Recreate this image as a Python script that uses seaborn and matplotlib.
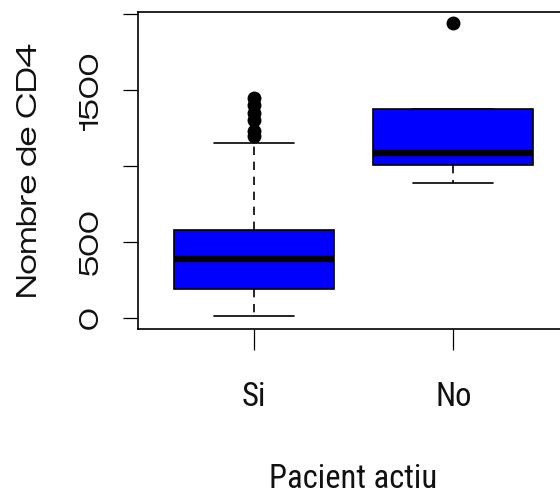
import matplotlib
matplotlib.use("Agg")
import matplotlib.pyplot as plt
from matplotlib import font_manager
import pandas as pd
import seaborn as sns

# CD4 counts per group
groups = ["Si", "No"]
cd4_si = [15, 40, 70, 95, 120, 140, 160, 178, 191,
          215, 240, 265, 290, 315, 340, 365, 389,
          410, 435, 460, 490, 515, 540, 560, 581,
          820, 1150, 1195, 1232, 1305, 1350, 1400, 1446]
cd4_no = [891, 1008, 1083, 1375, 1938]

y_ticks = [0, 500, 1000, 1500, 2000]
y_tick_labels = ["0", "500", "", "1500", ""]

x_title = "Pacient actiu"
y_title = "Nombre de CD4"

df = pd.DataFrame({
    x_title: ["Si"] * len(cd4_si) + ["No"] * len(cd4_no),
    y_title: cd4_si + cd4_no,
})

sns.set_style("ticks")
installed = {f.name for f in font_manager.fontManager.ttflist}


def pick(*names):
    for n in names:
        if n in installed:
            return n
    return "DejaVu Sans"


narrow = pick("Roboto Condensed", "Archivo Narrow", "Liberation Sans")
wide = pick("Zalando Sans Expanded", "DejaVu Sans")

W, H = 560, 495
fig = plt.figure(figsize=(W / 100, H / 100), dpi=100)
fig.patch.set_facecolor("white")
ax = fig.add_axes([138 / W, 1 - 329 / H, 431 / W, 317 / H])
ax.set_facecolor("white")

sns.boxplot(
    data=df, x=x_title, y=y_title, order=groups, ax=ax,
    color="#0000ff", saturation=1, width=0.8, whis=1.5,
    linecolor="black", linewidth=1.2,
    boxprops=dict(edgecolor="black", linewidth=1.2),
    medianprops=dict(color="black", linewidth=4.5, solid_capstyle="butt"),
    whiskerprops=dict(color="black", linewidth=1.2, linestyle=(0, (5, 4))),
    capprops=dict(color="black", linewidth=1.2),
    flierprops=dict(marker="o", markerfacecolor="black",
                    markeredgecolor="black", markersize=9),
)

ax.set_xlim(-0.58, 1.58)
ax.set_ylim(-72, 2013)

ax.set_yticks(y_ticks)
ax.set_yticklabels(y_tick_labels, rotation=90, va="center", ha="center",
                   fontsize=19, family=wide, color="#111111")
ax.tick_params(axis="y", length=10.8, width=0.9, pad=23, color="black")

ax.set_xticks(range(len(groups)))
ax.set_xticklabels(groups, fontsize=23.5, family=narrow, color="#111111")
ax.tick_params(axis="x", length=15, width=0.9, pad=22.4, color="black")

ax.set_xlabel(x_title, fontsize=23.5, family=narrow, color="#111111")
ax.xaxis.label.set_va("baseline")
ax.xaxis.set_label_coords(0.5, -0.5016)
ax.set_ylabel(y_title, fontsize=20, family=wide, color="#111111")
ax.yaxis.set_label_coords(-0.2224, 0.5)

for side in ["left", "top", "bottom"]:
    ax.spines[side].set_visible(True)
    ax.spines[side].set_color("black")
    ax.spines[side].set_linewidth(1.2)
ax.spines["right"].set_visible(False)

fig.savefig("out.png", dpi=100)
